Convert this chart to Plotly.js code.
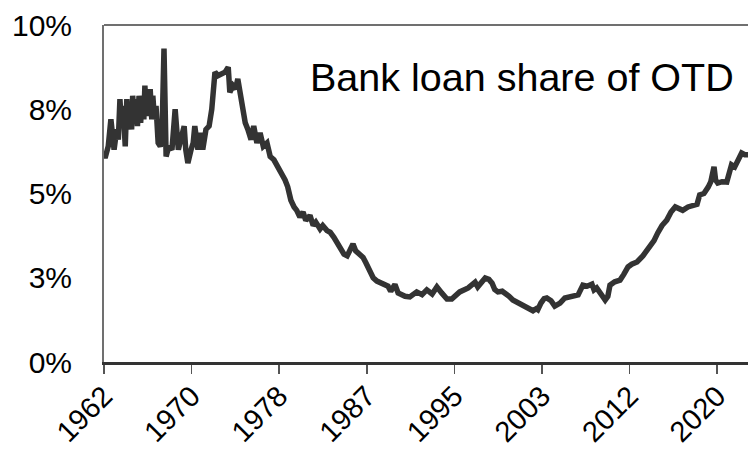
<!DOCTYPE html>
<html>
<head>
<meta charset="utf-8">
<script src="https://cdn.plot.ly/plotly-3.0.1.min.js"></script>
<style>html,body{margin:0;padding:0;background:#fff;}#chart{width:748px;height:451px;}</style>
</head>
<body>
<div id="chart"></div>
<script>
const years = [1962.0,1962.1,1962.4,1962.65,1962.95,1963.2,1963.35,1963.5,1963.65,1963.8,1964.0,1964.15,1964.3,1964.45,1964.6,1964.7,1964.85,1965.0,1965.15,1965.3,1965.45,1965.6,1965.75,1965.85,1966.0,1966.15,1966.25,1966.35,1966.5,1966.6,1966.75,1966.9,1967.1,1967.3,1967.45,1967.65,1967.85,1968.1,1968.4,1968.7,1969.0,1969.25,1969.55,1969.7,1969.9,1970.2,1970.4,1970.55,1970.85,1971.05,1971.3,1971.6,1971.9,1972.15,1972.45,1972.75,1973.1,1973.4,1973.7,1973.85,1974.15,1974.4,1974.6,1975.0,1975.3,1975.55,1975.85,1976.1,1976.4,1976.7,1977.0,1977.35,1977.65,1978.0,1978.3,1978.65,1979.05,1979.3,1979.6,1979.9,1980.15,1980.45,1980.75,1981.0,1981.4,1981.7,1981.95,1982.35,1982.6,1983.0,1983.3,1983.65,1983.95,1984.2,1984.6,1984.9,1985.15,1985.45,1985.7,1986.1,1986.4,1986.65,1986.95,1987.35,1987.7,1988.1,1988.45,1988.75,1989.0,1989.4,1989.7,1990.35,1990.8,1991.45,1991.95,1992.4,1992.9,1993.35,1993.8,1994.3,1994.75,1995.15,1995.5,1996.3,1996.95,1997.2,1997.6,1997.9,1998.25,1998.55,1998.8,1999.1,1999.5,1999.75,2000.15,2000.5,2001.0,2001.45,2001.9,2002.4,2002.7,2002.85,2003.15,2003.45,2003.7,2004.1,2004.45,2004.95,2005.4,2005.9,2006.25,2006.65,2007.1,2007.5,2007.95,2008.15,2008.4,2008.8,2009.2,2009.45,2009.65,2010.1,2010.6,2010.95,2011.35,2011.7,2012.2,2012.75,2013.4,2013.8,2014.15,2014.55,2015.0,2015.4,2015.8,2016.15,2016.5,2017.0,2017.45,2017.85,2018.1,2018.5,2018.9,2019.15,2019.45,2019.6,2019.8,2020.2,2020.65,2020.9,2021.1,2021.4,2021.7,2022.05,2022.35,2022.65];
const share = [6.2,6.05,6.4,7.2,6.3,6.9,6.6,7.8,7.0,7.6,6.4,7.8,6.9,7.7,6.9,7.9,7.1,7.8,7.0,7.9,7.1,7.8,7.2,8.2,7.3,8.1,7.3,8.1,7.2,7.9,7.2,7.6,6.5,6.4,6.6,9.3,6.1,6.4,6.3,7.5,6.3,6.6,7.0,6.3,5.9,6.3,6.5,7.0,6.3,6.8,6.3,6.9,7.0,7.5,8.6,8.5,8.55,8.6,8.75,8.0,8.2,8.1,8.4,7.5,7.1,6.9,6.6,7.0,6.5,6.8,6.4,6.5,6.1,6.0,5.85,5.6,5.4,5.2,4.8,4.6,4.5,4.3,4.45,4.2,4.35,4.05,4.15,3.95,4.05,3.9,3.85,3.7,3.55,3.35,3.2,3.15,3.35,3.5,3.3,3.2,3.1,2.95,2.75,2.5,2.4,2.35,2.3,2.25,2.1,2.3,2.05,1.95,1.93,2.08,2.0,2.14,2.02,2.23,2.05,1.87,1.87,2.0,2.08,2.2,2.37,2.23,2.4,2.49,2.45,2.34,2.15,2.08,2.1,2.05,1.95,1.84,1.75,1.66,1.6,1.52,1.58,1.55,1.75,1.88,1.9,1.82,1.66,1.75,1.9,1.93,1.96,1.99,2.28,2.25,2.31,2.14,2.2,2.05,1.84,1.95,2.28,2.38,2.43,2.6,2.82,2.9,2.97,3.15,3.41,3.6,3.83,4.05,4.21,4.45,4.6,4.55,4.5,4.6,4.66,4.68,4.96,5.0,5.19,5.35,5.79,5.4,5.31,5.35,5.34,5.6,5.85,5.79,6.0,6.2,6.15,6.15];
const xTickVals = [1962, 1970.25, 1978.5, 1986.75, 1995, 2003.25, 2011.5, 2019.75];
const xTickText = ["1962","1970","1978","1987","1995","2003","2012","2020"];
const yTickVals = [0, 2.5, 5, 7.5, 10];
const yTickText = ["0%","3%","5%","8%","10%"];
const label = "Bank loan share of OTD";

const font = "Liberation Sans, Arial, sans-serif";
Plotly.newPlot('chart', [{
  x: years, y: share, type: 'scatter', mode: 'lines',
  line: {color: '#333333', width: 5.5}, hoverinfo: 'skip'
}], {
  width: 748, height: 451,
  margin: {l: 104, r: 0, t: 25, b: 89, pad: 0},
  paper_bgcolor: '#ffffff', plot_bgcolor: '#ffffff',
  showlegend: false,
  xaxis: {
    range: [1962, 2022.65], tickvals: xTickVals, ticktext: xTickText,
    tickangle: -45, ticks: 'outside', ticklen: 9, tickwidth: 1.5, tickcolor: '#555555',
    showline: true, linecolor: '#333333', linewidth: 2.5, showgrid: false, zeroline: false,
    ticklabelstandoff: -6,
    tickfont: {family: font, size: 29, color: '#000000'}
  },
  yaxis: {
    range: [0, 10], tickvals: yTickVals, ticktext: yTickText,
    ticks: '', showline: true, linecolor: '#707070', linewidth: 2, showgrid: false, zeroline: false,
    ticklabelstandoff: 24,
    tickfont: {family: font, size: 30, color: '#000000'}
  },
  shapes: [{type: 'line', xref: 'paper', yref: 'paper', x0: 0, x1: 1, y0: 1, y1: 1,
            line: {color: '#707070', width: 2}}],
  annotations: [{
    text: label, xref: 'paper', yref: 'paper', x: 0.316, y: 0.846,
    xanchor: 'left', yanchor: 'middle', showarrow: false,
    font: {family: font, size: 39.5, color: '#000000'}
  }]
}, {staticPlot: true, displayModeBar: false});
</script>
</body>
</html>
